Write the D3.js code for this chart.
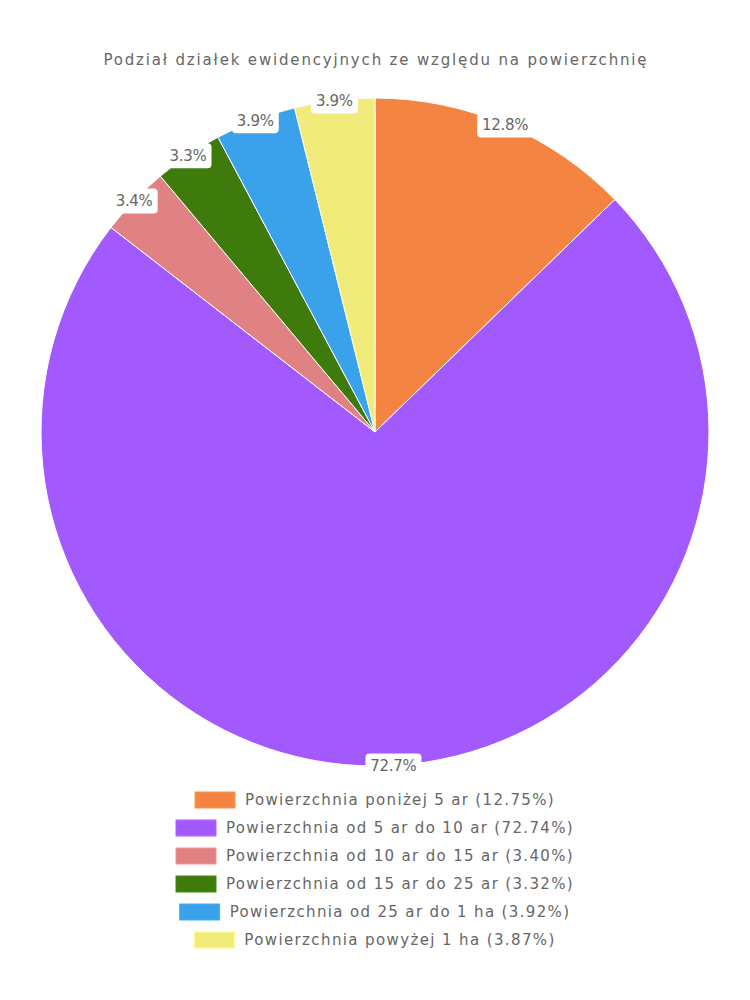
<!DOCTYPE html>
<html><head><meta charset="utf-8">
<script src="https://cdn.jsdelivr.net/npm/d3@7"></script>
<style>body{margin:0;background:#fff}svg{display:block}</style>
</head><body>
<svg id="c" width="750" height="1000"></svg>
<script>
const categories = ["Powierzchnia poniżej 5 ar","Powierzchnia od 5 ar do 10 ar","Powierzchnia od 10 ar do 15 ar","Powierzchnia od 15 ar do 25 ar","Powierzchnia od 25 ar do 1 ha","Powierzchnia powyżej 1 ha"];
const values = [12.75, 72.74, 3.40, 3.32, 3.92, 3.87];
const colors = ["#F38442","#A25AFF","#E08283","#3E7B0C","#39A2EA","#F0EB7B"];
const title = "Podział działek ewidencyjnych ze względu na powierzchnię";

const FONT = "'DejaVu Sans', sans-serif";
const FS = 15;
const svg = d3.select("#c");
const cx = 375, cy = 432, R = 334;

// helper: measure natural width of a string
const probe = svg.append("text").attr("font-family",FONT).attr("font-size",FS);
function natW(s){ probe.text(s); return probe.node().getComputedTextLength(); }
function widen(sel,k){
  const n = sel.node(); const s = n.textContent;
  const w = n.getComputedTextLength();
  const ls = w*(k-1)/s.length;
  sel.attr("letter-spacing", ls.toFixed(3));
  if (sel.attr("text-anchor")==="middle") sel.attr("dx", (ls/2).toFixed(2));
  return w*k;
}
const kTitle = 545 / natW(title);
const kLeg = 348 / natW(`${categories[1]} (${values[1].toFixed(2)}%)`);
const kLab = 46 / natW("12.8%");
probe.remove();

const tt = svg.append("text").attr("x",375).attr("y",65).attr("text-anchor","middle")
  .attr("font-family",FONT).attr("font-size",FS).attr("fill","#666").text(title);
widen(tt,kTitle);

const pie = d3.pie().sort(null).value(d=>d)(values);
const arc = d3.arc().innerRadius(0).outerRadius(R);
const g = svg.append("g").attr("transform",`translate(${cx},${cy})`);
g.selectAll("path").data(pie).join("path").attr("d",arc)
  .attr("fill",(d,i)=>colors[i]).attr("stroke","#fff").attr("stroke-width",1);

// labels at outer edge
const lab = g.selectAll("g.lab").data(pie).join("g").attr("class","lab")
  .attr("transform",d=>{const a=(d.startAngle+d.endAngle)/2;return `translate(${R*Math.sin(a)},${-R*Math.cos(a)})`;});
lab.each(function(d){
  const s=d3.select(this);
  const t=s.append("text").attr("text-anchor","middle").attr("dy","0.36em")
    .attr("font-family",FONT).attr("font-size",FS).attr("fill","#666")
    .text(d3.format(".1f")(d.value)+"%");
  const w=widen(t,kLab)+10;
  s.insert("rect","text").attr("x",-w/2).attr("y",-12).attr("width",w).attr("height",25)
    .attr("rx",4).attr("fill","#fff");
});

// legend
const lg = svg.append("g");
categories.forEach((c,i)=>{
  const y = 800 + i*28;
  const row = lg.append("g");
  const t = row.append("text").attr("y",y).attr("dy","0.36em")
    .attr("font-family",FONT).attr("font-size",FS).attr("fill","#666")
    .text(`${c} (${values[i].toFixed(2)}%)`);
  const tw = widen(t,kLeg);
  const total = 40 + 10 + tw;
  const x0 = 375 - total/2;
  row.append("rect").attr("x",x0).attr("y",y-8).attr("width",40).attr("height",16)
    .attr("fill",colors[i]).attr("stroke",d3.color(colors[i]).brighter(0.3)).attr("stroke-width",1);
  t.attr("x",x0+50);
});
</script>
</body></html>
